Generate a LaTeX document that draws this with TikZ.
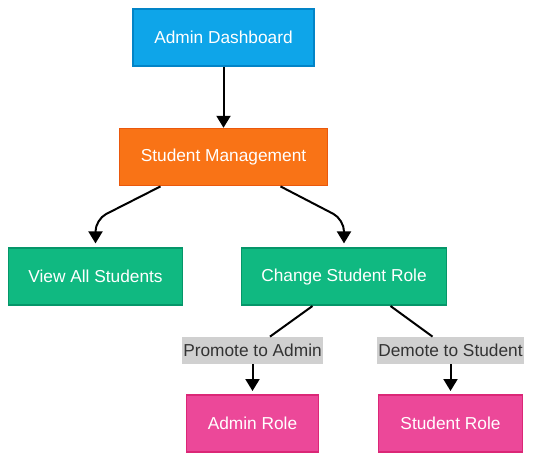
\documentclass[tikz,border=0pt]{standalone}
\usepackage{fontspec}
\setmainfont{Liberation Sans}
\usepackage{tikz}
\usetikzlibrary{arrows.meta, positioning}
\definecolor{skyfill}{HTML}{0EA5E9}
\definecolor{skyline}{HTML}{0284C7}
\definecolor{orgfill}{HTML}{F97316}
\definecolor{orgline}{HTML}{EA580C}
\definecolor{grnfill}{HTML}{10B981}
\definecolor{grnline}{HTML}{059669}
\definecolor{pnkfill}{HTML}{EC4899}
\definecolor{pnkline}{HTML}{DB2777}
\definecolor{lblfill}{HTML}{D0D0D0}
\definecolor{lbltext}{HTML}{333333}
\tikzstyle{box}   = [rectangle, line width=1.6pt, minimum height=57pt, text centered, text=white, font=\fontsize{17.3}{20}\selectfont]
\tikzstyle{lbl}   = [rectangle, fill=lblfill, text=lbltext, inner xsep=1pt, minimum height=27pt, font=\fontsize{17.3}{20}\selectfont]
\tikzstyle{arrow} = [line width=2pt, -{Triangle[width=14pt, length=12pt]}]
\tikzstyle{link}  = [line width=2pt]

\begin{document}
\begin{tikzpicture}
  \useasboundingbox (0,0) rectangle (534pt,-459pt);
  % Top level
  \node[box, fill=skyfill, draw=skyline, minimum width=181pt] (dash) at (223.5pt,-37.5pt) {Admin Dashboard};
  \node[box, fill=orgfill, draw=orgline, minimum width=208pt, below=61pt of dash] (mgmt) {Student Management};

  % Second level
  \node[box, fill=grnfill, draw=grnline, minimum width=174pt, below=61pt of mgmt, xshift=-128pt] (viewall) {View All Students};
  \node[box, fill=grnfill, draw=grnline, minimum width=205pt, below=61pt of mgmt, xshift=120.5pt] (chrole) {Change Student Role};

  % Roles
  \node[box, fill=pnkfill, draw=pnkline, minimum width=132pt, below=88pt of chrole, xshift=-91.5pt] (adminrole) {Admin Role};
  \node[box, fill=pnkfill, draw=pnkline, minimum width=144pt, below=88pt of chrole, xshift=106.5pt] (studrole) {Student Role};

  % Edge labels
  \node[lbl, above=30pt of adminrole] (promote) {Promote to Admin};
  \node[lbl, above=30pt of studrole] (demote) {Demote to Student};

  % Flows
  \draw[arrow] (dash) -- (mgmt);
  \draw[arrow, rounded corners=12pt, shorten >=4pt] ([xshift=-63pt]mgmt.south) -- ([yshift=28pt]viewall.north) -- (viewall.north);
  \draw[arrow, rounded corners=12pt, shorten >=4pt] ([xshift=57pt]mgmt.south) -- ([yshift=28pt]chrole.north) -- (chrole.north);
  \draw[link] ([xshift=-31.5pt]chrole.south) -- ([xshift=17.5pt]promote.north);
  \draw[link] ([xshift=46.5pt]chrole.south) -- ([xshift=-18pt]demote.north);
  \draw[arrow, shorten >=3pt] (promote) -- (adminrole);
  \draw[arrow, shorten >=3pt] (demote) -- (studrole);
\end{tikzpicture}
\end{document}
